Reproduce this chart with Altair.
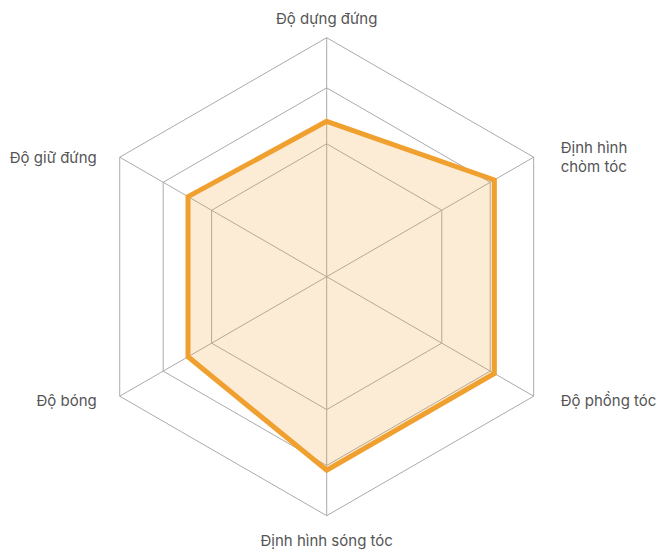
import altair as alt
import pandas as pd
import math

# ---- data ----
axis_labels = ["Độ dựng đứng", "Định hình\nchòm tóc", "Độ phồng tóc",
               "Định hình sóng tóc", "Độ bóng", "Độ giữ đứng"]
scores = [65, 81, 81, 81, 67, 67]
ring_levels = [55.6, 79, 100]
max_score = 100

R = 239  # outer radius (px units of the scales)
W, H = 650, 543
CX, CY = 318.7, 268.7

n = len(axis_labels)

def pos(v, i):
    a = 2 * math.pi * i / n
    r = v / max_score * R
    return r * math.sin(a), r * math.cos(a)

ring_rows = []
for lv in ring_levels:
    for k in range(n + 1):
        i = k % n
        x, y = pos(lv, i)
        ring_rows.append({"ring": str(lv), "ord": k, "x": x, "y": y})
rings_df = pd.DataFrame(ring_rows)

spoke_rows = []
for i in range(n):
    x, y = pos(max_score, i)
    spoke_rows.append({"x": 0.0, "y": 0.0, "x2": x, "y2": y})
spokes_df = pd.DataFrame(spoke_rows)

poly_rows = []
for k in range(n + 1):
    i = k % n
    x, y = pos(scores[i], i)
    poly_rows.append({"ord": k, "x": x, "y": y, "score": scores[i]})
poly_df = pd.DataFrame(poly_rows)

lab_rows = []
for i, lab in enumerate(axis_labels):
    x, y = pos(max_score, i)
    lab_rows.append({"label": lab, "x": x, "y": y, "i": i})
lab_df = pd.DataFrame(lab_rows)

xs = alt.Scale(domain=[-CX, W - CX], nice=False, zero=False)
ys = alt.Scale(domain=[CY - H, CY], nice=False, zero=False)
X = lambda f: alt.X(f, type="quantitative", scale=xs, axis=None)
Y = lambda f: alt.Y(f, type="quantitative", scale=ys, axis=None)

GRID = "#ababab"
ORANGE = "#F0A02E"
TXT = "#555555"

rings = alt.Chart(rings_df).mark_line(color=GRID, strokeWidth=1).encode(
    x=X("x"), y=Y("y"), detail="ring:N", order="ord:Q")

spokes = alt.Chart(spokes_df).mark_rule(color=GRID, strokeWidth=1).encode(
    x=X("x"), y=Y("y"), x2="x2:Q", y2="y2:Q")

area = alt.Chart(poly_df).mark_line(
    color=ORANGE, fill=ORANGE, fillOpacity=0.2, strokeWidth=5,
    strokeJoin="miter", interpolate="linear-closed").encode(
    x=X("x"), y=Y("y"), order="ord:Q")

base_lab = alt.Chart(lab_df)
tstyle = dict(font="Inter", fontSize=15, color=TXT, lineBreak="\n", lineHeight=19)

def lab(expr, **kw):
    return base_lab.transform_filter(expr).mark_text(**kw, **tstyle).encode(
        x=X("x"), y=Y("y"), text="label:N")

top_lab = lab("datum.i == 0", align="center", baseline="alphabetic", dy=-14)
bot_lab = lab("datum.i == 3", align="center", baseline="alphabetic", dy=30)
ur_lab = lab("datum.i == 1", align="left", baseline="middle", dx=27, dy=-9)
lr_lab = lab("datum.i == 2", align="left", baseline="middle", dx=27, dy=5)
ll_lab = lab("datum.i == 4", align="right", baseline="middle", dx=-23, dy=5)
ul_lab = lab("datum.i == 5", align="right", baseline="middle", dx=-23, dy=1)

chart = alt.layer(rings, spokes, area, top_lab, bot_lab, ur_lab, lr_lab,
                  ll_lab, ul_lab).properties(
    width=W, height=H,
    autosize=alt.AutoSizeParams(type="none"),
    padding=0,
).configure_view(stroke=None)

chart.save("out.html", embed_options={"renderer": "svg", "actions": False})
